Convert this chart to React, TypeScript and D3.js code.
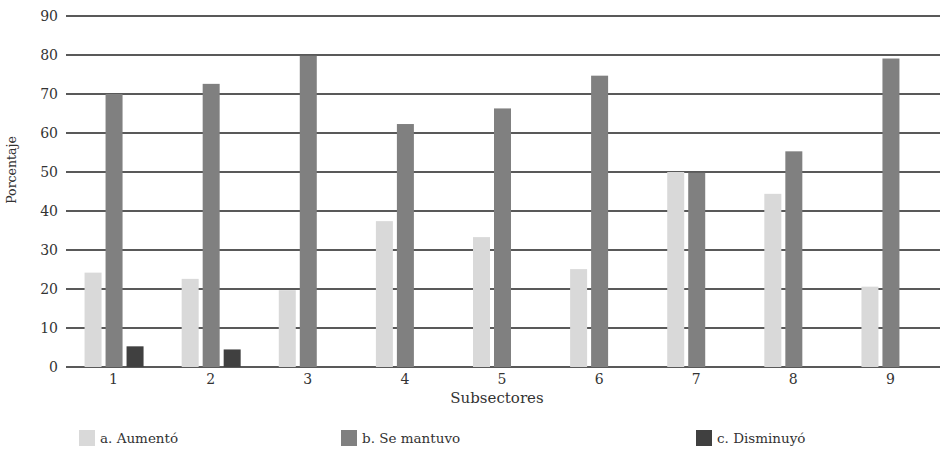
import React from "react";
import * as d3 from "d3";

const categories = ["1", "2", "3", "4", "5", "6", "7", "8", "9"];
const seriesNames = ["a. Aumentó", "b. Se mantuvo", "c. Disminuyó"];
const aumento = [24.2, 22.6, 19.7, 37.4, 33.3, 25.1, 50.0, 44.4, 20.6];
const semantuvo = [70.0, 72.6, 79.8, 62.3, 66.3, 74.7, 49.8, 55.3, 79.1];
const disminuyo = [5.3, 4.5, 0, 0, 0, 0, 0, 0, 0];
const yTicks = [0, 10, 20, 30, 40, 50, 60, 70, 80, 90];
const colors = ["#d9d9d9", "#808080", "#404040"];

export default function App() {
  const W = 944, H = 449;
  const left = 66, right = 940, top = 16, bottom = 367;
  const x = d3.scaleBand<string>().domain(categories).range([left, right]);
  const y = d3.scaleLinear().domain([0, 90]).range([bottom, top]);
  const series = [aumento, semantuvo, disminuyo];
  const barW = 17, step = 21;
  const font = "\"DejaVu Serif\", \"Liberation Serif\", serif";
  const ts = { fontFamily: font };
  const legendX = [79, 341, 696];
  return (
    <svg width={W} height={H} style={{ position: "absolute", left: 0, top: 0, fontFamily: font }}>
      <rect width={W} height={H} fill="#fff" />
      {yTicks.map((t) => (
        <g key={t}>
          <line x1={left} x2={right} y1={y(t)} y2={y(t)} stroke="#222" strokeWidth={1.6} />
          <text style={ts} x={58} y={y(t)} dy="0.33em" textAnchor="end" fontSize={14} fill="#333">{t}</text>
        </g>
      ))}
      {series.map((s, si) =>
        categories.map((c, i) =>
          s[i] > 0 ? (
            <rect
              key={`${si}-${c}`}
              x={(x(c) as number) + x.bandwidth() / 2 - 30 + si * step}
              y={y(s[i])}
              width={barW}
              height={y(0) - y(s[i])}
              fill={colors[si]}
            />
          ) : null
        )
      )}
      {categories.map((c) => (
        <text style={ts} key={c} x={(x(c) as number) + x.bandwidth() / 2 - 1} y={384} textAnchor="middle" fontSize={14} fill="#333">{c}</text>
      ))}
      <text style={ts} x={497} y={403} textAnchor="middle" fontSize={15} fill="#333">Subsectores</text>
      <text style={ts} transform={`translate(16,170) rotate(-90)`} textAnchor="middle" fontSize={12.5} fill="#333">Porcentaje</text>
      {seriesNames.map((n, i) => (
        <g key={n}>
          <rect x={legendX[i]} y={430} width={16} height={16} fill={colors[i]} />
          <text style={ts} x={legendX[i] + 21} y={443} fontSize={13.5} fill="#333">{n}</text>
        </g>
      ))}
    </svg>
  );
}
